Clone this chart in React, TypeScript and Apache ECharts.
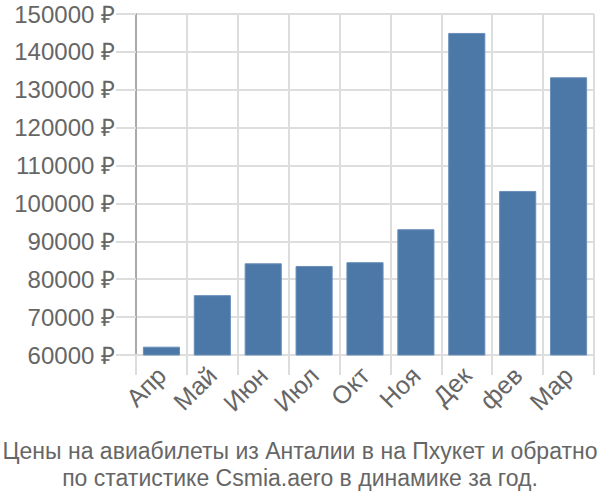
import React, { useEffect, useRef } from "react";
import * as echarts from "echarts";

const categories = ["Апр", "Май", "Июн", "Июл", "Окт", "Ноя", "Дек", "фев", "Мар"];
const prices = [62200, 75800, 84200, 83500, 84500, 93200, 145000, 103300, 133300];
const titleLines = [
  "Цены на авиабилеты из Анталии в на Пхукет и обратно",
  "по статистике Csmia.aero в динамике за год.",
];

export default function App() {
  const ref = useRef<HTMLDivElement>(null);
  useEffect(() => {
    const chart = echarts.init(ref.current!, null, { renderer: "svg" });
    chart.setOption({
      animation: false,
      title: {
        text: titleLines.join("\n"),
        left: "center",
        top: 432,
        textStyle: {
          fontFamily: "Liberation Sans",
          fontSize: 23,
          fontWeight: "normal",
          color: "#666",
          lineHeight: 27,
        },
      },
      grid: { left: 136, right: 6, top: 14, bottom: 145 },
      xAxis: {
        type: "category",
        data: categories,
        axisLine: { show: true, lineStyle: { color: "#ddd", width: 2 } },
        axisTick: { show: true, length: 20, alignWithLabel: false, lineStyle: { color: "#ddd", width: 2 } },
        splitLine: { show: true, lineStyle: { color: "#ddd", width: 2 } },
        axisLabel: {
          rotate: 45,
          margin: 16,
          fontFamily: "Liberation Sans",
          fontSize: 25,
          color: "#666",
          interval: 0,
        },
      },
      yAxis: {
        type: "value",
        min: 60000,
        max: 150000,
        interval: 10000,
        axisLine: { show: true, lineStyle: { color: "#aaa", width: 2 } },
        axisTick: { show: true, length: 20, lineStyle: { color: "#ddd", width: 2 } },
        splitLine: { show: true, lineStyle: { color: "#ddd", width: 2 } },
        axisLabel: {
          formatter: (v: number) => v + " ₽",
          fontFamily: "Liberation Sans",
          fontSize: 24,
          color: "#666",
          margin: 21,
        },
      },
      series: [
        {
          type: "bar",
          data: prices,
          barCategoryGap: "27%",
          itemStyle: { color: "#4c78a8", borderColor: "#6a8fba", borderWidth: 1 },
        },
      ],
    });
    return () => chart.dispose();
  }, []);
  return <div ref={ref} style={{ width: 600, height: 500, position: "absolute", left: 0, top: 0 }} />;
}
